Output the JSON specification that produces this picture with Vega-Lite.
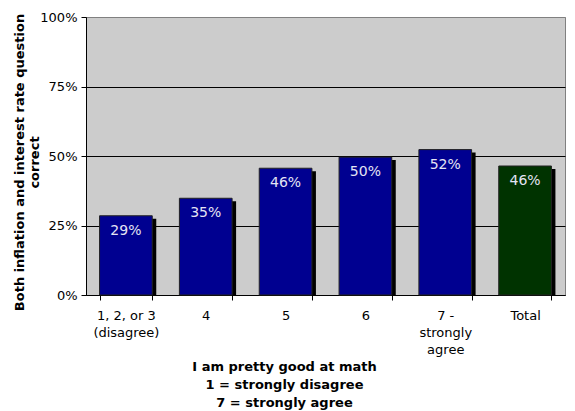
{
  "$schema": "https://vega.github.io/schema/vega-lite/v6.json",
  "width": 479,
  "height": 278,
  "autosize": {"type": "none"},
  "padding": {"left": 86, "top": 17, "right": 10, "bottom": 116},
  "background": "white",
  "config": {
    "view": {"stroke": "#808080", "strokeWidth": 1, "fill": "#cccccc"},
    "font": "DejaVu Sans"
  },
  "data": {
    "values": [
      {"cat": "1, 2, or 3|(disagree)", "v": 0.285, "lbl": "29%", "grp": "a"},
      {"cat": "4", "v": 0.348, "lbl": "35%", "grp": "a"},
      {"cat": "5", "v": 0.456, "lbl": "46%", "grp": "a"},
      {"cat": "6", "v": 0.496, "lbl": "50%", "grp": "a"},
      {"cat": "7 -|strongly|agree", "v": 0.523, "lbl": "52%", "grp": "a"},
      {"cat": "Total", "v": 0.464, "lbl": "46%", "grp": "b"}
    ]
  },
  "encoding": {
    "x": {
      "field": "cat",
      "type": "nominal",
      "sort": null,
      "scale": {"paddingInner": 0.34, "paddingOuter": 0.17},
      "axis": {
        "labelExpr": "isValid(datum.value) ? split(datum.value, '|') : ''",
        "labelAngle": 0,
        "labelFontSize": 13,
        "labelColor": "black",
        "labelBaseline": "top",
        "labelLineHeight": 17,
        "labelPadding": 9,
        "tickBand": "extent",
        "tickSize": 5,
        "tickColor": "black",
        "domainColor": "black",
        "title": ["I am pretty good at math", "1 = strongly disagree", "7 = strongly agree"],
        "titleFontSize": 13,
        "titleFontWeight": "bold",
        "titleColor": "black",
        "titleLineHeight": 18,
        "titleX": 198,
        "titleY": 65,
        "titleBaseline": "top",
        "titleAlign": "center"
      }
    },
    "y": {
      "field": "v",
      "type": "quantitative",
      "scale": {"domain": [0, 1], "nice": false},
      "axis": {
        "values": [0, 0.25, 0.5, 0.75, 1],
        "format": ".0%",
        "labelFontSize": 13,
        "labelColor": "black",
        "labelPadding": 4,
        "tickSize": 5,
        "tickColor": "black",
        "domainColor": "black",
        "grid": true,
        "gridColor": {"condition": {"test": "datum.value >= 1", "value": "#808080"}, "value": "black"},
        "gridOpacity": 1,
        "title": ["Both inflation and interest rate question", "correct"],
        "titleFontSize": 13,
        "titleFontWeight": "bold",
        "titleColor": "black",
        "titleLineHeight": 15,
        "titleX": -73,
        "titleY": 145,
        "titleAngle": -90,
        "titleAlign": "center",
        "titleBaseline": "top"
      }
    }
  },
  "layer": [
    {
      "mark": {"type": "bar", "color": "black", "xOffset": 4, "yOffset": 3, "clip": true}
    },
    {
      "mark": {"type": "bar", "stroke": "#222222", "strokeWidth": 1},
      "encoding": {
        "color": {
          "field": "grp",
          "type": "nominal",
          "scale": {"domain": ["a", "b"], "range": ["#000090", "#003300"]},
          "legend": null
        }
      }
    },
    {
      "mark": {"type": "text", "dy": 15, "baseline": "middle", "fontSize": 14, "color": "#e4e4f4"},
      "encoding": {"text": {"field": "lbl"}}
    }
  ]
}
